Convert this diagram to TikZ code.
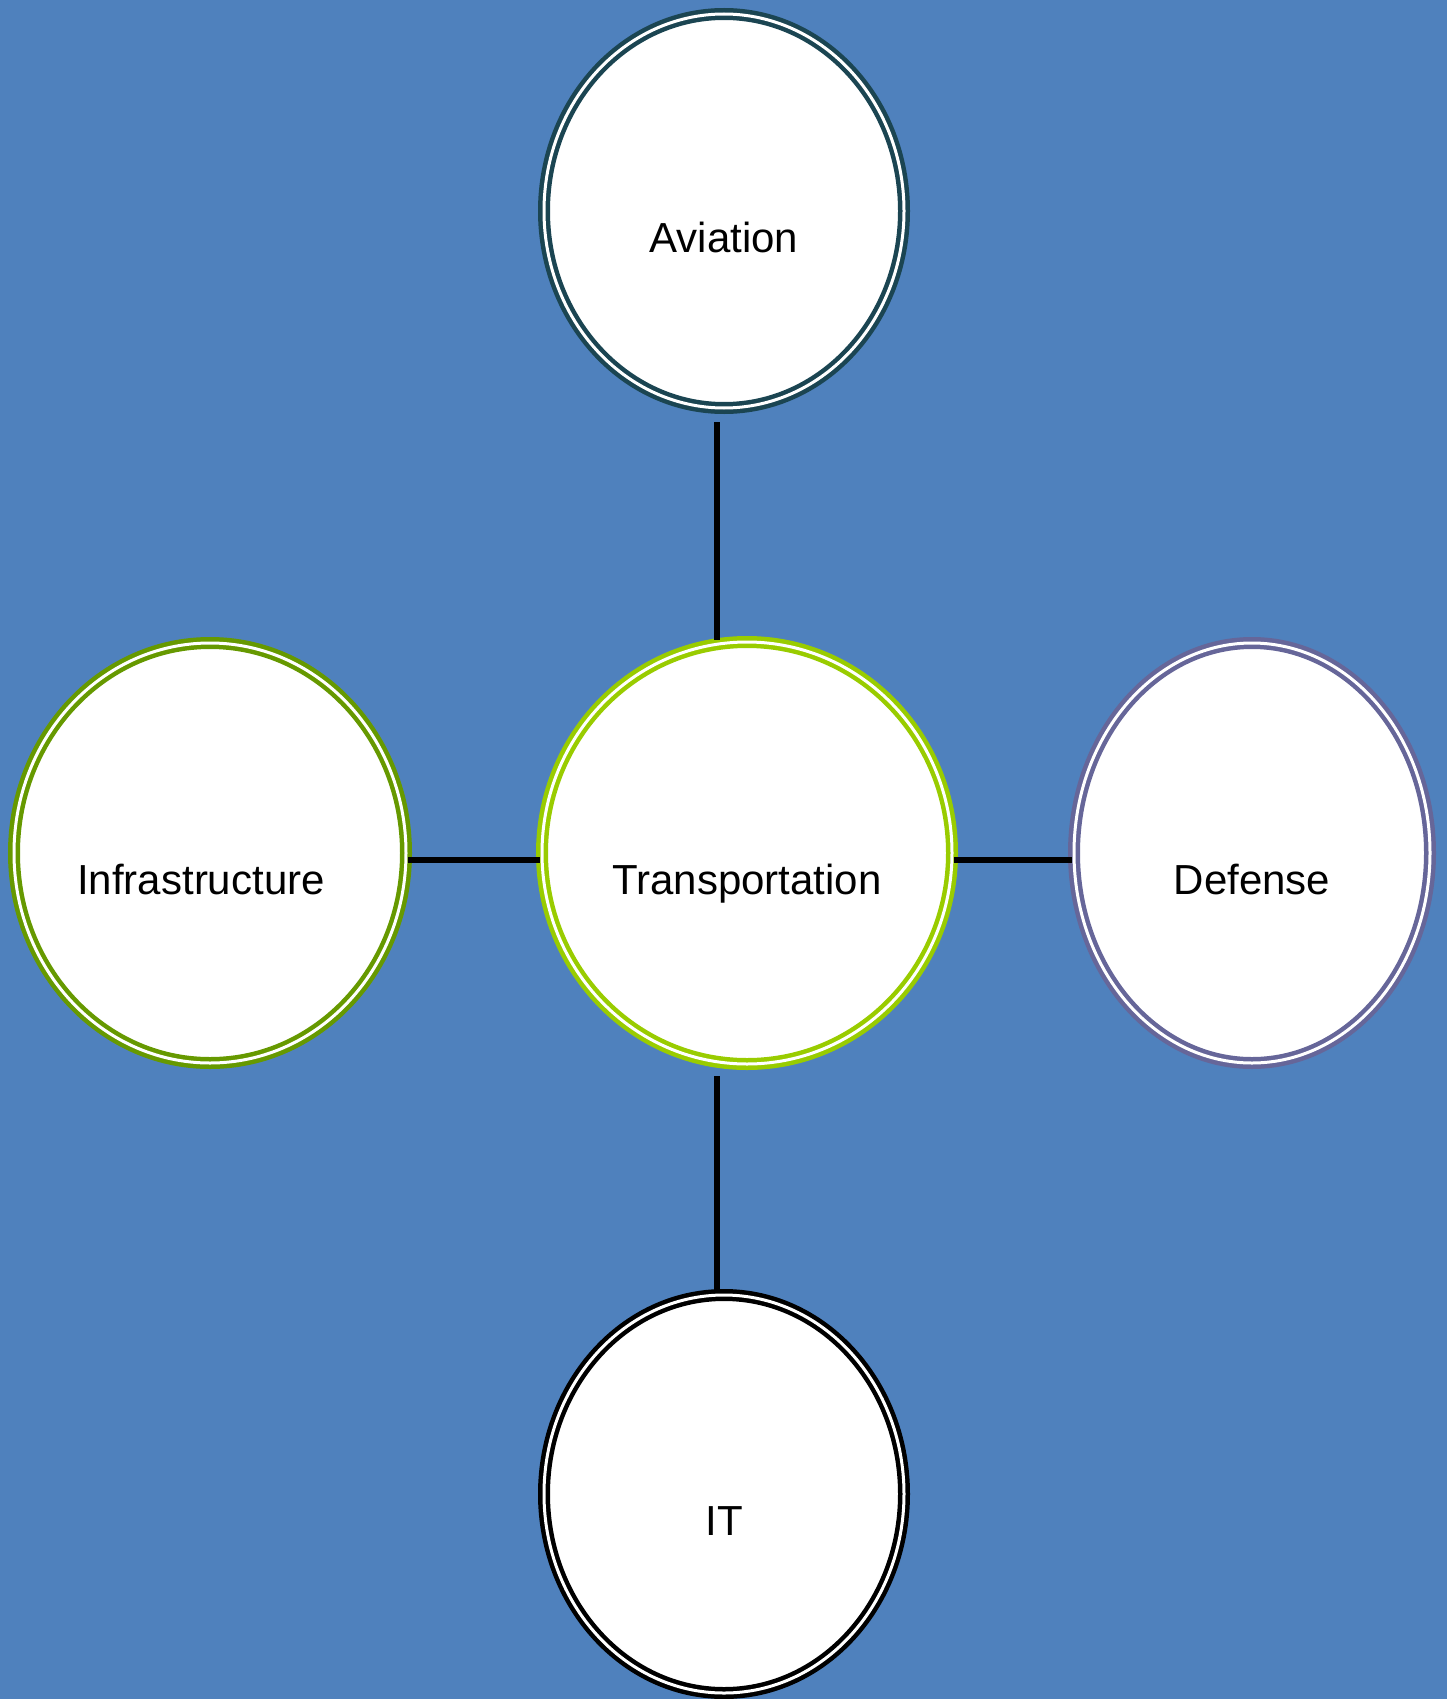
\documentclass[tikz,border=0pt]{standalone}
\usepackage{fontspec}
\setmainfont{Liberation Sans}
\usetikzlibrary{shapes.geometric}
\definecolor{backblue}{HTML}{4F81BD}
\definecolor{avicol}{HTML}{1B4552}
\definecolor{transcol}{HTML}{99CC00}
\definecolor{infracol}{HTML}{669900}
\definecolor{defcol}{HTML}{666699}
\tikzset{
  ring/.style={ellipse, fill=white, draw=#1, line width=4.5pt, double=white, double distance=3pt},
  tag/.style={font=\fontsize{42}{50}\selectfont, anchor=base, yshift=-41pt},
  link/.style={line width=5.5pt, black}
}
\begin{document}
\begin{tikzpicture}[x=1pt,y=-1pt]
			\useasboundingbox (0,0) rectangle (1447,1699);
			\fill[backblue] (0,0) rectangle (1447,1699);
			\node[ring=avicol, minimum width=360pt, minimum height=394pt] (avi) at (724,211) {};
			\node[ring=transcol, minimum width=410pt, minimum height=422pt] (trans) at (747,853) {};
			\node[ring=infracol, minimum width=392pt, minimum height=420pt] (infra) at (210,853) {};
			\node[ring=defcol, minimum width=356pt, minimum height=420pt] (def) at (1252,853) {};
			\node[ring=black, minimum width=360pt, minimum height=398pt] (it) at (724,1494) {};
			\node[tag] at (avi.center) {Aviation};
			\node[tag] at (trans.center) {Transportation};
			\node[tag, xshift=-9pt] at (infra.center) {Infrastructure};
			\node[tag] at (def.center) {Defense};
			\node[tag] at (it.center) {IT};
			\draw[link] ([xshift=-7pt,yshift=-12pt]avi.south) -- ([xshift=-7pt]avi.south |- trans.north);
			\draw[link] ([xshift=-7pt,yshift=-10pt]it.north |- trans.south) -- ([xshift=-7pt]it.north);
			\draw[link] ([yshift=-7pt]infra.east) -- ([yshift=-7pt]trans.west);
			\draw[link] ([yshift=-7pt]trans.east) -- ([yshift=-7pt]def.west);
			\end{tikzpicture}
\end{document}
